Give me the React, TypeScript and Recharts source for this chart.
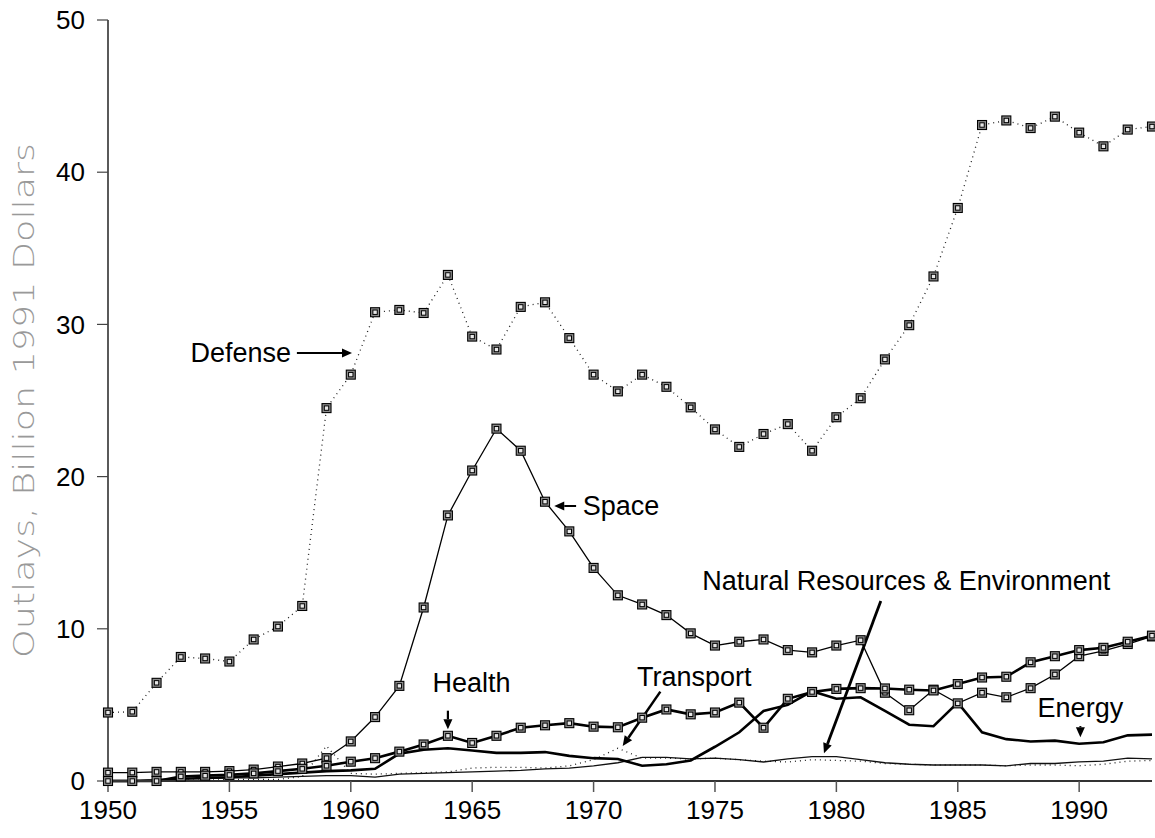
import React from "react"
import { LineChart, Line, XAxis, YAxis, ReferenceLine, ReferenceDot } from "recharts"

const years = [
  1950, 1951, 1952, 1953, 1954, 1955, 1956, 1957, 1958, 1959,
  1960, 1961, 1962, 1963, 1964, 1965, 1966, 1967, 1968, 1969,
  1970, 1971, 1972, 1973, 1974, 1975, 1976, 1977, 1978, 1979,
  1980, 1981, 1982, 1983, 1984, 1985, 1986, 1987, 1988, 1989,
  1990, 1991, 1992, 1993,
]

const defense = [
  4.5, 4.55, 6.45, 8.15, 8.05, 7.85, 9.3, 10.15, 11.5, 24.5,
  26.7, 30.8, 30.95, 30.75, 33.25, 29.2, 28.35, 31.15, 31.45, 29.1,
  26.7, 25.6, 26.7, 25.9, 24.55, 23.1, 21.95, 22.8, 23.45, 21.7,
  23.9, 25.15, 27.7, 29.95, 33.15, 37.65, 43.1, 43.4, 42.9, 43.65,
  42.6, 41.7, 42.8, 43.0,
]

const space = [
  0.55, 0.55, 0.6, 0.6, 0.6, 0.65, 0.75, 0.95, 1.15, 1.5,
  2.6, 4.2, 6.25, 11.4, 17.45, 20.4, 23.15, 21.7, 18.35, 16.4,
  14.0, 12.2, 11.6, 10.9, 9.7, 8.9, 9.15, 9.3, 8.6, 8.45,
  8.9, 9.25, 5.8, 4.65, 6.0, 5.1, 5.8, 5.5, 6.1, 7.0,
  8.2, 8.55, 9.0, 9.5,
]

const health = [
  0, 0, 0, 0.3, 0.35, 0.4, 0.5, 0.65, 0.8, 1.0,
  1.27, 1.5, 1.93, 2.4, 2.97, 2.5, 2.97, 3.5, 3.66, 3.8,
  3.57, 3.53, 4.16, 4.7, 4.38, 4.5, 5.15, 3.5, 5.4, 5.85,
  6.05, 6.1, 6.08, 6.0, 5.95, 6.37, 6.8, 6.85, 7.8, 8.2,
  8.6, 8.75, 9.15, 9.55,
]

const energy = [
  0, 0, 0.05, 0.15, 0.2, 0.25, 0.35, 0.45, 0.55, 0.65,
  0.7, 0.8, 1.8, 2.05, 2.15, 2.0, 1.85, 1.85, 1.9, 1.65,
  1.5, 1.45, 1.0, 1.1, 1.35, 2.25, 3.2, 4.6, 5.0, 5.9,
  5.4, 5.5, 4.6, 3.7, 3.6, 5.15, 3.2, 2.75, 2.6, 2.65,
  2.45, 2.55, 3.0, 3.05,
]

const natres = [
  0, 0, 0.05, 0.15, 0.15, 0.2, 0.2, 0.25, 0.3, 0.35,
  0.35, 0.25, 0.45, 0.5, 0.55, 0.6, 0.65, 0.7, 0.8, 0.85,
  1.0, 1.2, 1.55, 1.55, 1.45, 1.5, 1.4, 1.25, 1.45, 1.6,
  1.6, 1.4, 1.2, 1.1, 1.05, 1.05, 1.05, 1.0, 1.15, 1.15,
  1.25, 1.3, 1.5, 1.45,
]

const transport = [
  0, 0, 0, 0.05, 0.05, 0.1, 0.1, 0.1, 0.3, 2.3,
  0.5, 0.45, 0.5, 0.55, 0.6, 0.85, 0.9, 0.9, 0.85, 1.0,
  1.4, 2.15, 1.5, 1.5, 1.45, 1.5, 1.4, 1.3, 1.25, 1.4,
  1.35, 1.3, 1.15, 1.1, 1.05, 1.05, 1.05, 1.0, 1.05, 1.05,
  1.0, 1.1, 1.3, 1.35,
]

const xTicks = [1950, 1955, 1960, 1965, 1970, 1975, 1980, 1985, 1990]
const yTicks = [0, 10, 20, 30, 40, 50]

const data = years.map((year, i) => ({
  year,
  defense: defense[i],
  space: space[i],
  health: health[i],
  energy: energy[i],
  natres: natres[i],
  transport: transport[i],
}))

// annotation text and arrows, in data coordinates
const notes = [
  { text: "Defense", x: 1955.47, y: 28.1 },
  { text: "Space", x: 1971.13, y: 18.07 },
  { text: "Health", x: 1964.97, y: 6.44 },
  { text: "Transport", x: 1974.15, y: 6.85 },
  { text: "Natural Resources & Environment", x: 1982.88, y: 13.14 },
  { text: "Energy", x: 1990.05, y: 4.78 },
]

const arrows = [
  { from: [1957.78, 28.12], to: [1960.05, 28.12], w: 2 },
  { from: [1969.28, 18.07], to: [1968.38, 18.07], w: 2 },
  { from: [1964.0, 4.62], to: [1964.0, 3.4], w: 2.2 },
  { from: [1972.75, 5.87], to: [1971.2, 2.3], w: 2.5 },
  { from: [1981.83, 11.83], to: [1979.49, 1.82], w: 2.8 },
  { from: [1990.05, 3.61], to: [1990.05, 2.87], w: 2 },
]

const font = "'Liberation Sans', Arial, Helvetica, sans-serif"

const Marker = (props: any) => {
  const { cx, cy, index, dataKey } = props
  if (cx == null || cy == null) return <g key={`${dataKey}-${index}`} />
  return (
    <g key={`${dataKey}-${index}`}>
      <rect x={cx - 4.5} y={cy - 4.5} width={9} height={9} fill="#8c8c8c" stroke="#000" strokeWidth={1.1} />
      <rect x={cx - 2.2} y={cy - 2.2} width={4.4} height={4.4} fill="#e8e8e8" stroke="#000" strokeWidth={1} />
    </g>
  )
}

const Arrow = (props: any) => {
  const { x1, y1, x2, y2, w } = props
  const ang = Math.atan2(y2 - y1, x2 - x1)
  const len = 10
  const half = 4.5
  const bx = x2 - len * Math.cos(ang)
  const by = y2 - len * Math.sin(ang)
  const px = -Math.sin(ang) * half
  const py = Math.cos(ang) * half
  return (
    <g>
      <line x1={x1} y1={y1} x2={bx} y2={by} stroke="#000" strokeWidth={w} />
      <polygon points={`${x2},${y2} ${bx + px},${by + py} ${bx - px},${by - py}`} fill="#000" />
    </g>
  )
}

const YTitle = (props: any) => {
  const { viewBox } = props
  const x = viewBox.x + 24
  const y = viewBox.y + viewBox.height / 2
  return (
    <text
      x={x}
      y={y}
      transform={`rotate(-90, ${x}, ${y})`}
      textAnchor="middle"
      dominantBaseline="central"
      textLength={515}
      lengthAdjust="spacingAndGlyphs"
      fontSize={28}
      fontWeight={200}
      fontFamily="'DejaVu Sans', Roboto, sans-serif"
      fill="#999"
    >
      Outlays, Billion 1991 Dollars
    </text>
  )
}

export default function App() {
  return (
    <div style={{ position: "absolute", left: 0, top: 0, background: "#fff" }}>
      <LineChart width={1155} height={838} data={data} margin={{ top: 20, right: 3, bottom: 0, left: 0 }}>
        <XAxis
          dataKey="year"
          type="number"
          domain={[1950, 1993]}
          ticks={xTicks}
          interval={0}
          height={57}
          tickSize={11}
          tickMargin={9}
          axisLine={{ stroke: "#333", strokeWidth: 2 }}
          tickLine={{ stroke: "#555", strokeWidth: 1.5 }}
          tick={{ fill: "#000", fontSize: 26, fontFamily: font }}
        />
        <YAxis
          type="number"
          domain={[0, 50]}
          ticks={yTicks}
          interval={0}
          width={108}
          tickSize={11}
          tickMargin={12}
          axisLine={{ stroke: "#000", strokeWidth: 1.3 }}
          tickLine={{ stroke: "#444", strokeWidth: 1.2 }}
          tick={{ fill: "#000", fontSize: 26, fontFamily: font }}
          label={<YTitle />}
        />
        <Line dataKey="transport" type="linear" stroke="#222" strokeWidth={1.3} strokeDasharray="1 4" dot={false} isAnimationActive={false} />
        <Line dataKey="natres" type="linear" stroke="#111" strokeWidth={1.3} dot={false} isAnimationActive={false} />
        <Line dataKey="energy" type="linear" stroke="#000" strokeWidth={2.6} dot={false} isAnimationActive={false} />
        <Line dataKey="defense" type="linear" stroke="#222" strokeWidth={1.3} strokeDasharray="1 4" dot={Marker} isAnimationActive={false} />
        <Line dataKey="space" type="linear" stroke="#000" strokeWidth={1.3} dot={Marker} isAnimationActive={false} />
        <Line dataKey="health" type="linear" stroke="#000" strokeWidth={2.6} dot={Marker} isAnimationActive={false} />
        {arrows.map((a, i) => (
          <ReferenceLine
            key={`arrow-${i}`}
            segment={[{ x: a.from[0], y: a.from[1] }, { x: a.to[0], y: a.to[1] }]}
            ifOverflow="visible"
            shape={(p: any) => <Arrow {...p} w={a.w} />}
          />
        ))}
        {notes.map((n) => (
          <ReferenceDot
            key={n.text}
            x={n.x}
            y={n.y}
            r={0}
            ifOverflow="visible"
            shape={(p: any) => (
              <text x={p.cx} y={p.cy} textAnchor="middle" dominantBaseline="central" fontSize={27} fontFamily={font} fill="#000">
                {n.text}
              </text>
            )}
          />
        ))}
      </LineChart>
    </div>
  )
}
